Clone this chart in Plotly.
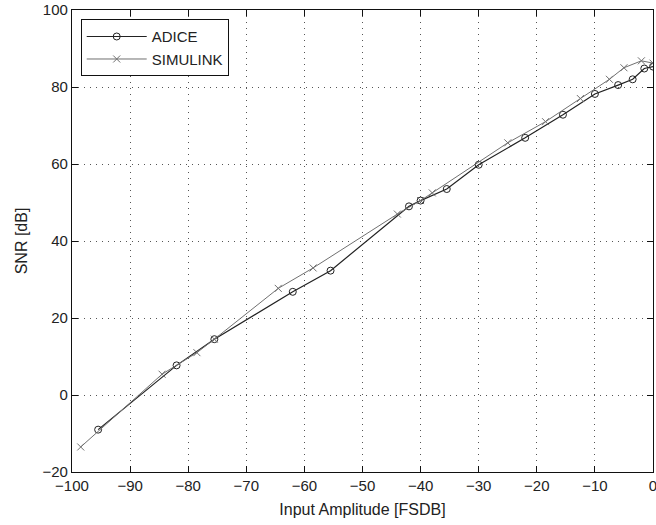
import plotly.graph_objects as go

# SNR vs input amplitude for the two simulators
adice_x = [-95.5, -82, -75.5, -62, -55.5, -42, -40, -35.5, -30, -22, -15.5, -10, -6, -3.5, -1.5, 0]
adice_y = [-9, 7.7, 14.5, 26.8, 32.3, 49, 50.5, 53.5, 59.8, 66.8, 72.8, 78.2, 80.5, 82, 84.8, 85.3]

simulink_x = [-98.5, -84.5, -78.5, -75.5, -64.5, -58.5, -44, -40, -38, -25, -18.5, -12.5, -7.5, -5, -2, 0]
simulink_y = [-13.5, 5.4, 11, 14.5, 27.7, 33, 47, 50.5, 52.5, 65.5, 71, 77, 82, 85, 86.8, 86.2]

x_ticks = [-100, -90, -80, -70, -60, -50, -40, -30, -20, -10, 0]
y_ticks = [-20, 0, 20, 40, 60, 80, 100]

font_family = "Liberation Sans Narrow, Liberation Sans, Arial, sans-serif"

fig = go.Figure()
fig.add_trace(go.Scatter(
    x=adice_x, y=adice_y, name="ADICE", mode="lines+markers",
    line=dict(color="#222222", width=1.2),
    marker=dict(symbol="circle-open", size=7, color="#222222", line=dict(width=1)),
))
fig.add_trace(go.Scatter(
    x=simulink_x, y=simulink_y, name="SIMULINK", mode="lines+markers",
    line=dict(color="#707070", width=1),
    marker=dict(symbol="x-thin-open", size=7, color="#707070", line=dict(width=1, color="#707070")),
))

axis_common = dict(
    showline=True, linecolor="#111111", linewidth=1.2, mirror="ticks",
    ticks="inside", ticklen=6, tickcolor="#111111",
    showgrid=True, gridcolor="#555555", gridwidth=1, griddash="1px,5px",
    zeroline=False,
    ticklabeloverflow="allow",
    tickfont=dict(family=font_family, size=15, color="#222222"),
    title_font=dict(family=font_family, size=16, color="#222222"),
)

fig.update_xaxes(range=[-100, 0], tickvals=x_ticks, title_text="Input Amplitude [FSDB]",
                 title_standoff=10, **axis_common)
fig.update_yaxes(range=[-20, 100], tickvals=y_ticks, title_text="SNR [dB]",
                 title_standoff=10, **axis_common)

fig.update_layout(
    width=656, height=525,
    margin=dict(l=72, r=3, t=10, b=53, autoexpand=False),
    paper_bgcolor="white", plot_bgcolor="white",
    showlegend=True,
    legend=dict(
        x=0.015, y=0.98, xanchor="left", yanchor="top",
        bgcolor="white", bordercolor="#111111", borderwidth=1,
        font=dict(family=font_family, size=15, color="#222222"),
        itemwidth=60, tracegroupgap=2,
    ),
)

fig.write_html("out.html")
